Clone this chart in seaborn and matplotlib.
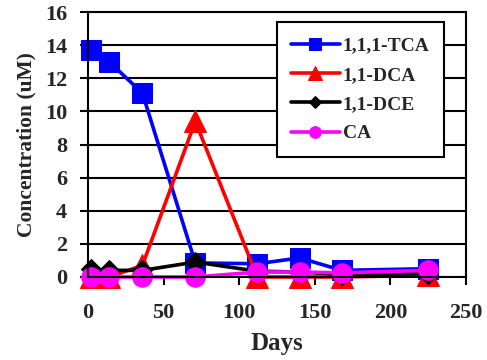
import matplotlib
matplotlib.use("Agg")
import matplotlib.pyplot as plt
import seaborn as sns

# data
days = [2, 14, 36, 71, 112, 140, 168, 225]
tca = [13.7, 13.0, 11.1, 0.85, 0.8, 1.15, 0.4, 0.5]
dca = [0.0, 0.0, 0.7, 9.4, 0.0, 0.0, 0.0, 0.1]
dce = [0.5, 0.4, 0.4, 0.9, 0.35, 0.3, 0.15, 0.2]
ca = [0.0, 0.0, 0.0, 0.0, 0.3, 0.3, 0.25, 0.4]

series = [
    ("1,1,1-TCA", tca, "#0000ff", "s", 15),
    ("1,1-DCA", dca, "#ff0000", "^", 16),
    ("1,1-DCE", dce, "#000000", "D", 10),
    ("CA", ca, "#ff00ff", "o", 14),
]

sns.set_style("white")
plt.rcParams["font.family"] = ["Liberation Serif", "DejaVu Serif"]
plt.rcParams["font.weight"] = "bold"

fig = plt.figure(figsize=(4.87, 3.6), dpi=100)
ax = fig.add_axes([0.1807, 0.2306, 0.776, 0.736])

for name, vals, col, mk, ms in series:
    sns.lineplot(x=days, y=vals, ax=ax, color=col, marker=mk, markersize=ms,
                 markeredgecolor=col, linewidth=2.6, label=name, clip_on=False)

ax.set_xlim(0, 250)
ax.set_ylim(0, 16)
ax.set_xticks(range(0, 251, 50))
ax.set_yticks(range(0, 17, 2))
ax.yaxis.grid(True, color="black", linewidth=1.5)
ax.set_axisbelow(True)
for s in ax.spines.values():
    s.set_color("black")
    s.set_linewidth(1.5)
    s.set_visible(True)
ax.tick_params(axis="both", direction="out", length=6, width=1.5, color="black",
               labelsize=16, bottom=True, left=True)
ax.tick_params(axis="x", pad=13)
ax.tick_params(axis="y", pad=9)
for lbl in ax.get_xticklabels() + ax.get_yticklabels():
    lbl.set_fontweight("bold")

ax.set_xlabel("Days", fontsize=18, fontweight="bold", labelpad=6)
ax.set_ylabel("Concentration (uM)", fontsize=15.5, fontweight="bold", labelpad=6)

leg = ax.legend(loc="upper left", bbox_to_anchor=(0.499, 0.961), frameon=True,
                fancybox=False, prop={"weight": "bold", "size": 14},
                markerscale=0.6, handlelength=2.5, labelspacing=0.6,
                borderpad=0.75, handletextpad=0.15, borderaxespad=0)
leg.get_frame().set_edgecolor("black")
leg.get_frame().set_linewidth(1.5)
leg.get_frame().set_alpha(1)

plt.savefig("out.png", dpi=100)
